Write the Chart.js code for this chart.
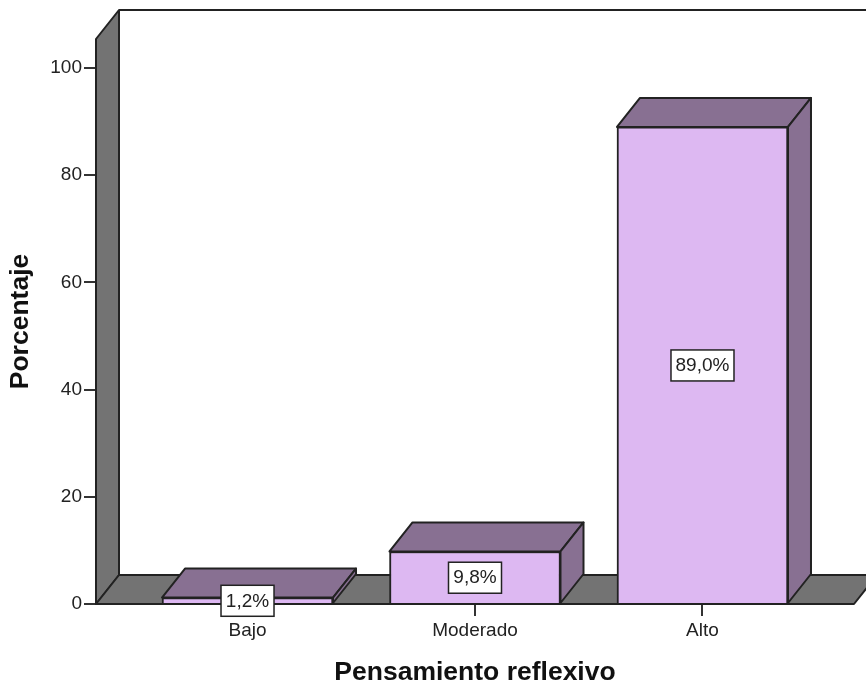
<!DOCTYPE html>
<html>
<head>
<meta charset="utf-8">
<title>Pensamiento reflexivo</title>
<script src="https://cdn.jsdelivr.net/npm/chart.js@4"></script>
<style>
body { margin: 0; background: #fff; }
canvas { display: block; }
</style>
</head>
<body>
<canvas id="mycanvas" width="866" height="684"></canvas>
<script>
var categories = ['Bajo', 'Moderado', 'Alto'];
var porcentajes = [1.2, 9.8, 89.0];

// depth of the fake 3D box, in pixels
var depthX = 23;
var depthY = 29;
var lineColor = '#222222';

function poly(ctx, pts, fill) {
	ctx.beginPath();
	ctx.moveTo(pts[0][0], pts[0][1]);
	for (var i = 1; i < pts.length; i++) ctx.lineTo(pts[i][0], pts[i][1]);
	ctx.closePath();
	ctx.fillStyle = fill;
	ctx.fill();
	ctx.lineWidth = 2;
	ctx.strokeStyle = lineColor;
	ctx.lineJoin = 'round';
	ctx.stroke();
}

var box3d = {
	id: 'box3d',
	beforeDatasetsDraw: function(chart) {
		var ctx = chart.ctx, a = chart.chartArea;
		ctx.save();
		// back wall top edge, side wall, floor
		ctx.beginPath();
		ctx.moveTo(a.left + depthX, a.top - depthY);
		ctx.lineTo(chart.width, a.top - depthY);
		ctx.lineWidth = 2;
		ctx.strokeStyle = lineColor;
		ctx.stroke();
		poly(ctx, [[a.left, a.top], [a.left + depthX, a.top - depthY], [a.left + depthX, a.bottom - depthY], [a.left, a.bottom]], '#737373');
		poly(ctx, [[a.left, a.bottom], [a.left + depthX, a.bottom - depthY], [a.right + depthX, a.bottom - depthY], [a.right, a.bottom]], '#737373');
		// top and side of every bar
		chart.getDatasetMeta(0).data.forEach(function(bar) {
			var l = bar.x - bar.width / 2, r = bar.x + bar.width / 2;
			poly(ctx, [[l, bar.y], [l + depthX, bar.y - depthY], [r + depthX, bar.y - depthY], [r, bar.y]], '#887092');
			poly(ctx, [[r, bar.y], [r + depthX, bar.y - depthY], [r + depthX, bar.base - depthY], [r, bar.base]], '#887092');
		});
		ctx.restore();
	},
	afterDatasetsDraw: function(chart) {
		var ctx = chart.ctx;
		ctx.save();
		ctx.font = '19px "Liberation Sans"';
		ctx.textAlign = 'center';
		ctx.textBaseline = 'middle';
		chart.getDatasetMeta(0).data.forEach(function(bar, i) {
			var txt = porcentajes[i].toFixed(1).replace('.', ',') + '%';
			var midY = (bar.y + bar.base) / 2;
			var w = (i === 2 ? 63 : 53);
			ctx.fillStyle = '#ffffff';
			ctx.fillRect(bar.x - w / 2, midY - 15, w, 31);
			ctx.lineWidth = 1.5;
			ctx.strokeStyle = lineColor;
			ctx.strokeRect(bar.x - w / 2, midY - 15, w, 31);
			ctx.fillStyle = '#222222';
			ctx.fillText(txt, bar.x, midY + 1);
		});
		ctx.restore();
	}
};

var ctx = document.getElementById('mycanvas');

var barGraph = new Chart(ctx, {
	type: 'bar',
	data: {
		datasets: [{
			label: 'Porcentaje',
			data: categories.map(function(c, i) { return { x: i, y: porcentajes[i] }; }),
			backgroundColor: '#DDB8F2',
			borderColor: lineColor,
			borderWidth: 2,
			barThickness: 171
		}]
	},
	options: {
		responsive: false,
		animation: false,
		layout: { padding: { top: 39, right: 12, left: 0, bottom: 0 } },
		plugins: { legend: { display: false }, tooltip: { enabled: false } },
		scales: {
			x: {
				type: 'linear',
				offset: false,
				min: -0.666,
				max: 2.666,
				afterFit: function(s) { s.height = 80; },
				afterBuildTicks: function(s) {
					s.ticks = categories.map(function(c, i) { return { value: i }; });
				},
				grid: { offset: false, drawOnChartArea: false, tickLength: 12, color: '#333333', lineWidth: 2 },
				border: { display: false },
				ticks: {
					autoSkip: false,
					maxRotation: 0,
					padding: 3,
					color: '#222222',
					font: { family: '"Liberation Sans"', size: 19 },
					callback: function(v) { return categories[v]; }
				},
				title: {
					display: true,
					text: 'Pensamiento reflexivo',
					color: '#111111',
					font: { family: '"Liberation Sans"', size: 26.5, weight: 'bold' },
					padding: { top: 0, bottom: -5 }
				}
			},
			y: {
				min: 0,
				max: 105.4,
				afterFit: function(s) { s.width = 96; },
				grid: { drawOnChartArea: false, tickLength: 12, color: '#333333', lineWidth: 2 },
				border: { display: false },
				ticks: {
					stepSize: 20,
					includeBounds: false,
					padding: 2,
					color: '#222222',
					font: { family: '"Liberation Sans"', size: 19 }
				},
				title: {
					display: true,
					text: 'Porcentaje',
					color: '#111111',
					font: { family: '"Liberation Sans"', size: 26.5, weight: 'bold' },
					padding: { top: 5, bottom: 0 }
				}
			}
		}
	},
	plugins: [box3d]
});
</script>
</body>
</html>
